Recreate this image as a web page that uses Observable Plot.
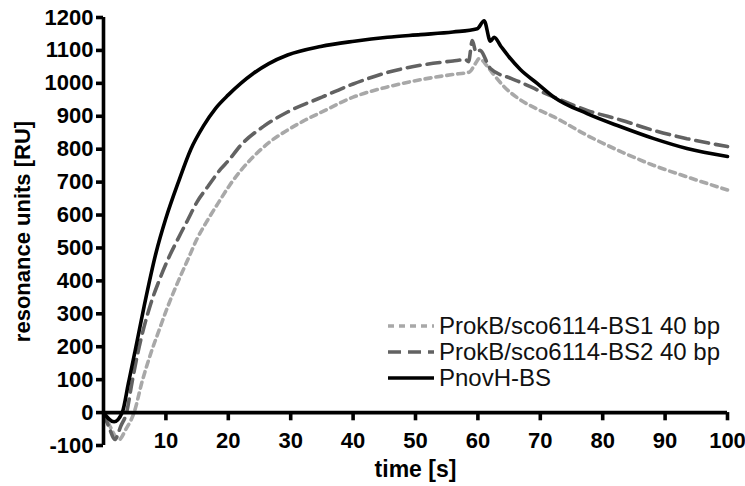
<!DOCTYPE html>
<html>
<head>
<meta charset="utf-8">
<script src="https://cdn.jsdelivr.net/npm/d3@7"></script>
<script src="https://cdn.jsdelivr.net/npm/@observablehq/plot@0.6"></script>
<style>
  html, body { margin: 0; padding: 0; background: #fff; }
  #wrap { position: relative; width: 745px; height: 486px; font-family: "Liberation Sans", Arial, sans-serif; }
  #legend { position: absolute; left: 388px; top: 313px; font-size: 24px; color: #111; line-height: 26px; }
  #legend .row { display: flex; align-items: center; height: 26px; white-space: nowrap; }
  #legend svg { width: 46px; height: 10px; margin-right: 5px; flex: none; }
</style>
</head>
<body>
<div id="wrap">
  <div id="chart"></div>
  <div id="legend"></div>
</div>
<script>
// Series names
const seriesNames = ["ProkB/sco6114-BS1 40 bp", "ProkB/sco6114-BS2 40 bp", "PnovH-BS"];

// ProkB/sco6114-BS1 40 bp (light grey, short dashes)
const bs1T = [0, 1, 2.5, 3.6, 4.9, 6.2, 7.6, 9, 10.3, 12, 13.5, 15, 16.7, 18.5, 20.2, 22, 24, 26.5, 29.5, 32, 35, 40, 45.5, 50.8, 56, 58.6, 59.6, 60.2, 61.5, 62.6, 64.2, 66.8, 69.5, 72.2, 77.5, 83, 88, 93.5, 100];
const bs1V = [0, -40, -82, -50, 0, 95, 181, 255, 322, 400, 464, 528, 585, 640, 690, 735, 777, 820, 858, 885, 913, 958, 989, 1011, 1027, 1034, 1060, 1075, 1052, 1025, 990, 950, 922, 898, 842, 792, 752, 716, 676];

// ProkB/sco6114-BS2 40 bp (dark grey, long dashes)
const bs2T = [0, 1, 1.8, 2.8, 3.7, 4.6, 5.5, 7.6, 9, 10.3, 12, 13.5, 15, 16.7, 18.8, 20, 22, 25.7, 29.5, 35, 40, 45.5, 50.8, 56, 58, 58.5, 59.1, 59.7, 60.3, 62, 65.3, 67, 69.5, 72.2, 77.5, 83, 88, 93.5, 100];
const bs2V = [0, -50, -82, -40, 0, 95, 181, 332, 405, 464, 530, 585, 640, 686, 740, 765, 812, 870, 913, 958, 998, 1033, 1055, 1068, 1072, 1066, 1130, 1095, 1100, 1045, 1015, 1002, 980, 958, 918, 888, 858, 832, 808];

// PnovH-BS (black, solid)
const pnT = [0, 1.7, 3, 4, 5, 6.5, 8.4, 10, 12, 14, 16, 18, 20, 22, 24, 26.5, 29.5, 34.8, 40.2, 45.5, 50.8, 56, 59.9, 61, 62, 62.6, 63.7, 65, 66.8, 69.5, 72.2, 77.5, 82.9, 88.2, 93.5, 100];
const pnV = [0, -28, 0, 90, 181, 322, 484, 590, 700, 800, 870, 925, 965, 1000, 1030, 1060, 1086, 1112, 1128, 1140, 1148, 1156, 1166, 1190, 1128, 1140, 1112, 1080, 1042, 1000, 958, 908, 868, 832, 802, 778];

// Axis ticks
const xTicks = [10, 20, 30, 40, 50, 60, 70, 80, 90, 100];
const yTicks = [-100, 0, 100, 200, 300, 400, 500, 600, 700, 800, 900, 1000, 1100, 1200];

const seriesColors = ["#a8a8a8", "#626262", "#000000"];
const seriesDash = ["6,5", "13,7", null];

function rows(T, V, s) { return T.map((t, i) => ({t, v: V[i], s})); }
const data = [
  ...rows(bs1T, bs1V, seriesNames[0]),
  ...rows(bs2T, bs2V, seriesNames[1]),
  ...rows(pnT, pnV, seriesNames[2])
];

const font = "Liberation Sans, Arial, sans-serif";

const lineMarks = seriesNames.map((name, i) =>
  Plot.line(data.filter(d => d.s === name), {
    x: "t", y: "v", stroke: seriesColors[i], strokeWidth: 3.6,
    strokeDasharray: seriesDash[i], curve: "monotone-x", strokeLinejoin: "miter"
  })
);

const chart = Plot.plot({
  width: 745,
  height: 486,
  marginLeft: 103,
  marginRight: 18,
  marginTop: 17,
  marginBottom: 41,
  style: { fontFamily: font, background: "#fff", overflow: "visible" },
  x: { domain: [0, 100], axis: null },
  y: { domain: [-100, 1200] },
  marks: [
    ...lineMarks,
    // y axis line
    Plot.ruleX([0], { y1: -100, y2: 1200, stroke: "#000", strokeWidth: 3.6 }),
    // x axis line at y = 0
    Plot.ruleY([0], { x1: 0, x2: 100, stroke: "#000", strokeWidth: 3.6 }),
    // y axis ticks and labels
    Plot.axisY({
      ticks: yTicks, tickSize: 7, tickPadding: 3, tickFormat: d => String(d),
      strokeWidth: 3.6, fontSize: 22, fontWeight: "bold", fill: "#000", label: null
    }),
    // x axis ticks (hanging from y = 0)
    Plot.ruleX(xTicks, { x: d => d, y1: 0, y2: -25, stroke: "#000", strokeWidth: 3.6 }),
    Plot.text(xTicks, {
      x: d => d, y: 0, dy: 28, text: d => String(d),
      fontSize: 22, fontWeight: "bold", fill: "#000"
    }),
    // axis titles
    Plot.text(["resonance units [RU]"], {
      frameAnchor: "left", textAnchor: "middle", lineAnchor: "middle", dx: -81, rotate: -90, text: d => d,
      fontSize: 22, fontWeight: "bold", fill: "#000"
    }),
    Plot.text(["time [s]"], {
      frameAnchor: "bottom", lineAnchor: "middle", dy: 24, text: d => d,
      fontSize: 23, fontWeight: "bold", fill: "#000"
    })
  ]
});
document.getElementById("chart").appendChild(chart);

// Legend
const legend = document.getElementById("legend");
seriesNames.forEach((name, i) => {
  const row = document.createElement("div");
  row.className = "row";
  const dash = seriesDash[i] ? `stroke-dasharray="${seriesDash[i]}"` : "";
  row.innerHTML = `<svg viewBox="0 0 46 10"><line x1="0" y1="5" x2="46" y2="5" stroke="${seriesColors[i]}" stroke-width="3.6" ${dash}/></svg><span>${name}</span>`;
  legend.appendChild(row);
});
</script>
</body>
</html>
